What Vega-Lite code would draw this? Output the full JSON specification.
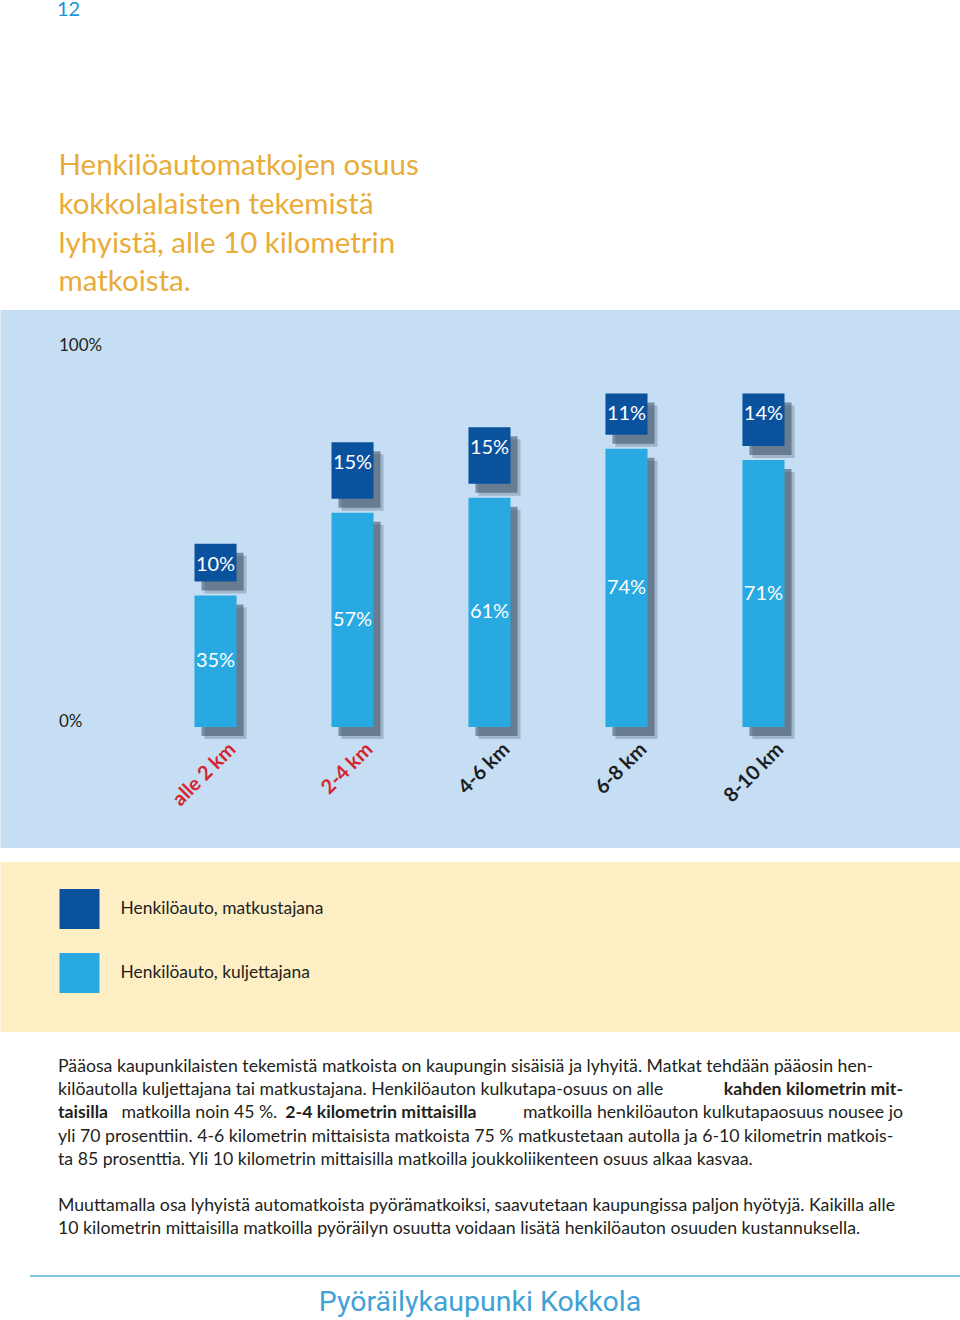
{
  "$schema": "https://vega.github.io/schema/vega-lite/v6.json",
  "background": "white",
  "padding": 0,
  "spacing": 14,
  "center": true,
  "title": {"text": "12", "anchor": "start", "dx": 57, "dy": 1, "fontSize": 20, "font": "Lato", "fontWeight": "normal", "color": "#1b93d4", "offset": 132},
  "config": {"view": {"stroke": null}, "font": "Lato"},
  "resolve": {"scale": {"color": "independent"}, "legend": {"color": "independent"}},
  "datasets": {
    "trips": [
      {"matka": "alle 2 km", "tapa": "Henkilöauto, kuljettajana", "osuus": 0.35},
      {"matka": "alle 2 km", "tapa": "Henkilöauto, matkustajana", "osuus": 0.10},
      {"matka": "2-4 km", "tapa": "Henkilöauto, kuljettajana", "osuus": 0.57},
      {"matka": "2-4 km", "tapa": "Henkilöauto, matkustajana", "osuus": 0.15},
      {"matka": "4-6 km", "tapa": "Henkilöauto, kuljettajana", "osuus": 0.61},
      {"matka": "4-6 km", "tapa": "Henkilöauto, matkustajana", "osuus": 0.15},
      {"matka": "6-8 km", "tapa": "Henkilöauto, kuljettajana", "osuus": 0.74},
      {"matka": "6-8 km", "tapa": "Henkilöauto, matkustajana", "osuus": 0.11},
      {"matka": "8-10 km", "tapa": "Henkilöauto, kuljettajana", "osuus": 0.71},
      {"matka": "8-10 km", "tapa": "Henkilöauto, matkustajana", "osuus": 0.14}
    ]
  },
  "vconcat": [
    {
      "data": {"name": "trips"},
      "transform": [
        {"stack": "osuus", "groupby": ["matka"], "sort": [{"field": "tapa", "order": "ascending"}], "as": ["v0", "v1"]}
      ],
      "width": 960,
      "height": 538,
      "view": {"fill": "#c6def4", "stroke": null},
      "title": {
        "text": ["Henkilöautomatkojen osuus", "kokkolalaisten tekemistä", "lyhyistä, alle 10 kilometrin", "matkoista."],
        "anchor": "start", "frame": "group", "dx": 58, "fontSize": 29.5, "lineHeight": 38.7, "font": "Lato", "fontWeight": "normal", "color": "#e9ac3a", "offset": 12
      },
      "encoding": {
        "x": {
          "field": "matka", "type": "nominal",
          "sort": ["alle 2 km", "2-4 km", "4-6 km", "6-8 km", "8-10 km"],
          "scale": {"range": [194, 784], "paddingInner": 0.693, "paddingOuter": 0},
          "axis": {
            "title": null, "domain": false, "ticks": false, "grid": false,
            "orient": "bottom", "offset": -106, "labelPadding": 4,
            "labelAngle": -45, "labelAlign": "right", "labelBaseline": "middle", "labelOffset": 17,
            "labelFont": "Lato", "labelFontSize": 20, "labelFontWeight": "bold",
            "labelColor": {"condition": {"test": "datum.value === 'alle 2 km' || datum.value === '2-4 km'", "value": "#d3262e"}, "value": "#1e1e1e"}
          }
        }
      },
      "layer": [
        {
          "transform": [{"filter": "datum.tapa === 'Henkilöauto, kuljettajana'"}],
          "mark": {"type": "bar", "color": "#44576a", "opacity": 0.3, "xOffset": 10, "yOffset": 12, "y2Offset": 12},
          "encoding": {
            "y": {"field": "v1", "type": "quantitative", "scale": {"domain": [-0.3218, 1.109], "nice": false, "zero": false},
              "axis": {"values": [0, 1], "format": ".0%", "domain": false, "ticks": false, "grid": false, "title": null, "offset": -58, "labelPadding": 0, "labelAlign": "left", "labelBaseline": "alphabetic", "labelFont": "Lato", "labelFontSize": 17, "labelColor": "#231f20"}},
            "y2": {"field": "v0"}
          }
        },
        {
          "transform": [{"filter": "datum.tapa === 'Henkilöauto, kuljettajana'"}],
          "mark": {"type": "bar", "color": "#44576a", "opacity": 0.6, "xOffset": 7, "yOffset": 9, "y2Offset": 9},
          "encoding": {
            "y": {"field": "v1", "type": "quantitative", "scale": {"domain": [-0.3218, 1.109], "nice": false, "zero": false}, "axis": null},
            "y2": {"field": "v0"}
          }
        },
        {
          "transform": [{"filter": "datum.tapa === 'Henkilöauto, matkustajana'"}],
          "mark": {"type": "bar", "color": "#44576a", "opacity": 0.3, "xOffset": 10, "yOffset": -2, "y2Offset": -2},
          "encoding": {
            "y": {"field": "v1", "type": "quantitative", "scale": {"domain": [-0.3218, 1.109], "nice": false, "zero": false}, "axis": null},
            "y2": {"field": "v0"}
          }
        },
        {
          "transform": [{"filter": "datum.tapa === 'Henkilöauto, matkustajana'"}],
          "mark": {"type": "bar", "color": "#44576a", "opacity": 0.6, "xOffset": 7, "yOffset": -5, "y2Offset": -5},
          "encoding": {
            "y": {"field": "v1", "type": "quantitative", "scale": {"domain": [-0.3218, 1.109], "nice": false, "zero": false}, "axis": null},
            "y2": {"field": "v0"}
          }
        },
        {
          "transform": [{"filter": "datum.tapa === 'Henkilöauto, kuljettajana'"}],
          "mark": {"type": "bar", "color": "#29a9e1"},
          "encoding": {
            "y": {"field": "v1", "type": "quantitative", "scale": {"domain": [-0.3218, 1.109], "nice": false, "zero": false}, "axis": null},
            "y2": {"field": "v0"}
          }
        },
        {
          "transform": [{"filter": "datum.tapa === 'Henkilöauto, matkustajana'"}],
          "mark": {"type": "bar", "color": "#0b529e", "yOffset": -14, "y2Offset": -14},
          "encoding": {
            "y": {"field": "v1", "type": "quantitative", "scale": {"domain": [-0.3218, 1.109], "nice": false, "zero": false}, "axis": null},
            "y2": {"field": "v0"}
          }
        },
        {
          "transform": [{"filter": "datum.tapa === 'Henkilöauto, matkustajana'"}],
          "mark": {"type": "text", "color": "white", "font": "Lato", "fontSize": 20, "baseline": "middle", "dy": 7},
          "encoding": {
            "y": {"field": "v1", "type": "quantitative", "scale": {"domain": [-0.3218, 1.109], "nice": false, "zero": false}, "axis": null},
            "text": {"field": "osuus", "type": "quantitative", "format": ".0%"}
          }
        },
        {
          "transform": [{"filter": "datum.tapa === 'Henkilöauto, kuljettajana'"}],
          "mark": {"type": "text", "color": "white", "font": "Lato", "fontSize": 20, "baseline": "middle"},
          "encoding": {
            "y": {"field": "v1", "type": "quantitative", "scale": {"domain": [-0.6436, 2.218], "nice": false, "zero": false}, "axis": null},
            "text": {"field": "osuus", "type": "quantitative", "format": ".0%"}
          }
        }
      ],
      "resolve": {"scale": {"y": "independent"}}
    },
    {
      "data": {"name": "trips"},
      "transform": [{"filter": "false"}],
      "width": 960,
      "height": 170,
      "view": {"fill": "#fdeec4", "stroke": null},
      "mark": {"type": "bar"},
      "encoding": {
        "color": {
          "field": "tapa", "type": "nominal",
          "scale": {"domain": ["Henkilöauto, matkustajana", "Henkilöauto, kuljettajana"], "range": ["#0b529e", "#29a9e1"]},
          "legend": {"title": null, "orient": "none", "legendX": 59, "legendY": 27, "symbolType": "square", "symbolSize": 1600, "symbolStrokeWidth": 0, "symbolOpacity": 1, "labelFont": "Lato", "labelFontSize": 17.4, "labelColor": "#231f20", "labelOffset": 21, "labelLimit": 500, "rowPadding": 24, "padding": 0}
        }
      }
    },
    {
      "width": 845,
      "height": 215,
      "encoding": {
        "y": {"field": "line", "type": "quantitative", "scale": {"domain": [0.0948, 9.362], "reverse": true, "nice": false, "zero": false}, "axis": null}
      },
      "layer": [
        {
          "data": {"values": [
            {"line": 1, "teksti": "Pääosa kaupunkilaisten tekemistä matkoista on kaupungin sisäisiä ja lyhyitä. Matkat tehdään pääosin hen-"},
            {"line": 2, "teksti": "kilöautolla kuljettajana tai matkustajana. Henkilöauton kulkutapa-osuus on alle"},
            {"line": 4, "teksti": "yli 70 prosenttiin. 4-6 kilometrin mittaisista matkoista 75 % matkustetaan autolla ja 6-10 kilometrin matkois-"},
            {"line": 5, "teksti": "ta 85 prosenttia. Yli 10 kilometrin mittaisilla matkoilla joukkoliikenteen osuus alkaa kasvaa."},
            {"line": 7, "teksti": "Muuttamalla osa lyhyistä automatkoista pyörämatkoiksi, saavutetaan kaupungissa paljon hyötyjä. Kaikilla alle"},
            {"line": 8, "teksti": "10 kilometrin mittaisilla matkoilla pyöräilyn osuutta voidaan lisätä henkilöauton osuuden kustannuksella."}
          ]},
          "mark": {"type": "text", "align": "left", "baseline": "middle", "font": "Lato", "fontSize": 17.7, "color": "#231f20"},
          "encoding": {
            "x": {"datum": 0, "type": "quantitative", "scale": {"domain": [0, 1], "nice": false, "zero": false}, "axis": null},
            "text": {"field": "teksti"}
          }
        },
        {
          "data": {"values": [{"line": 2, "teksti": "kahden kilometrin mit-"}]},
          "mark": {"type": "text", "align": "right", "baseline": "middle", "font": "Lato", "fontSize": 17.7, "fontWeight": "bold", "color": "#231f20"},
          "encoding": {
            "x": {"datum": 1, "type": "quantitative"},
            "text": {"field": "teksti"}
          }
        },
        {
          "data": {"values": [{"line": 3, "teksti": "taisilla"}]},
          "mark": {"type": "text", "align": "left", "baseline": "middle", "font": "Lato", "fontSize": 17.7, "fontWeight": "bold", "color": "#231f20"},
          "encoding": {
            "x": {"datum": 0, "type": "quantitative"},
            "text": {"field": "teksti"}
          }
        },
        {
          "data": {"values": [{"line": 3, "teksti": "matkoilla noin 45 %."}]},
          "mark": {"type": "text", "align": "left", "baseline": "middle", "font": "Lato", "fontSize": 17.7, "color": "#231f20"},
          "encoding": {
            "x": {"datum": 0.075, "type": "quantitative"},
            "text": {"field": "teksti"}
          }
        },
        {
          "data": {"values": [{"line": 3, "teksti": "2-4 kilometrin mittaisilla"}]},
          "mark": {"type": "text", "align": "left", "baseline": "middle", "font": "Lato", "fontSize": 17.7, "fontWeight": "bold", "color": "#231f20"},
          "encoding": {
            "x": {"datum": 0.269, "type": "quantitative"},
            "text": {"field": "teksti"}
          }
        },
        {
          "data": {"values": [{"line": 3, "teksti": "matkoilla henkilöauton kulkutapaosuus nousee jo"}]},
          "mark": {"type": "text", "align": "right", "baseline": "middle", "font": "Lato", "fontSize": 17.7, "color": "#231f20"},
          "encoding": {
            "x": {"datum": 1, "type": "quantitative"},
            "text": {"field": "teksti"}
          }
        }
      ]
    },
    {
      "width": 960,
      "height": 52,
      "data": {"values": [{"alatunniste": "Pyöräilykaupunki Kokkola"}]},
      "layer": [
        {
          "mark": {"type": "rule", "color": "#80c4dd", "strokeWidth": 2},
          "encoding": {
            "x": {"datum": 0.03125, "type": "quantitative", "scale": {"domain": [0, 1], "nice": false, "zero": false}, "axis": null},
            "x2": {"datum": 1},
            "y": {"datum": 1, "type": "quantitative", "scale": {"domain": [0, 1], "nice": false, "zero": false}, "axis": null}
          }
        },
        {
          "mark": {"type": "text", "align": "center", "baseline": "middle", "font": "Roboto", "fontSize": 28.5, "color": "#3fa2d6"},
          "encoding": {
            "text": {"field": "alatunniste"}
          }
        }
      ]
    }
  ]
}
